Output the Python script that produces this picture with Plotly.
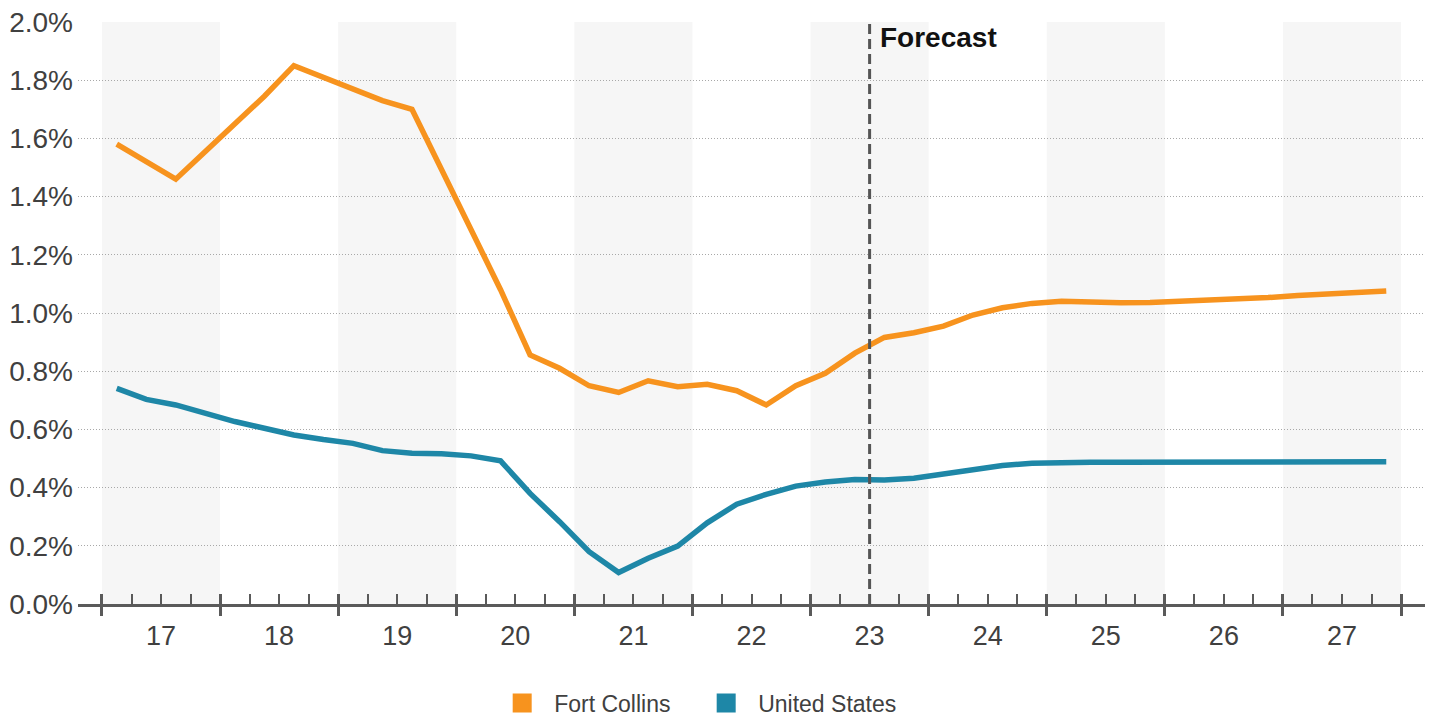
import plotly.graph_objects as go

# ---- data ----
years = list(range(2017, 2028))
quarters = [f"{y}Q{q}" for y in years for q in (1, 2, 3, 4)]
year_labels = ["17", "18", "19", "20", "21", "22", "23", "24", "25", "26", "27"]

fort_collins = [1.58, 1.52, 1.46, 1.555, 1.65, 1.745, 1.85, 1.81, 1.77, 1.73, 1.70,
                1.49, 1.29, 1.08, 0.856, 0.81, 0.75, 0.727, 0.767, 0.747, 0.755, 0.733,
                0.684, 0.75, 0.793, 0.862, 0.916, 0.932, 0.955, 0.993, 1.018, 1.033,
                1.04, 1.037, 1.035, 1.036, 1.04, 1.043, 1.048, 1.053, 1.06, 1.065,
                1.07, 1.076]
united_states = [0.741, 0.703, 0.684, 0.656, 0.627, 0.604, 0.581, 0.565, 0.552, 0.527,
                 0.518, 0.516, 0.509, 0.492, 0.38, 0.283, 0.18, 0.108, 0.157, 0.199,
                 0.279, 0.343, 0.377, 0.405, 0.419, 0.428, 0.426, 0.432, 0.446, 0.464,
                 0.476, 0.484, 0.487, 0.487, 0.487, 0.487, 0.487, 0.487, 0.488, 0.488,
                 0.488, 0.488, 0.489, 0.489]
forecast_start = "2023Q3"
shaded_years = [2017, 2019, 2021, 2023, 2025, 2027]
y_ticks = [0.0, 0.2, 0.4, 0.6, 0.8, 1.0, 1.2, 1.4, 1.6, 1.8, 2.0]


def qpos(label):
    y, q = label.split("Q")
    return int(y) + (int(q) - 1) / 4


x_vals = [qpos(q) + 0.125 for q in quarters]
forecast_x = qpos(forecast_start)
boundaries = years + [years[-1] + 1]

ORANGE = "#F7931E"
BLUE = "#1E87A7"
AXIS = "#5a5a5a"
TXT = "#404040"
FONT = "Liberation Sans, Arial, sans-serif"

x_range = [2016.797, 2028.203]

fig = go.Figure()
fig.add_trace(go.Scatter(x=x_vals, y=fort_collins, mode="lines",
                         line=dict(color=ORANGE, width=5.5), showlegend=False,
                         name="Fort Collins"))
fig.add_trace(go.Scatter(x=x_vals, y=united_states, mode="lines",
                         line=dict(color=BLUE, width=5.5), showlegend=False,
                         name="United States"))
# legend entries (squares)
fig.add_trace(go.Scatter(x=[None], y=[None], mode="markers", name="Fort Collins",
                         marker=dict(symbol="square", size=19, color=ORANGE,
                                     line=dict(color=ORANGE, width=3))))
fig.add_trace(go.Scatter(x=[None], y=[None], mode="markers", name="United States",
                         marker=dict(symbol="square", size=19, color=BLUE,
                                     line=dict(color=BLUE, width=3))))

shapes = []
for yr in shaded_years:
    shapes.append(dict(type="rect", xref="x", yref="paper", x0=yr, x1=yr + 1,
                       y0=0, y1=1, fillcolor="#f6f6f6", line=dict(width=0),
                       layer="below"))
shapes.append(dict(type="line", xref="x", yref="paper", x0=forecast_x, x1=forecast_x,
                   y0=0, y1=1.002, line=dict(color="#555555", width=3, dash="10px,5px"),
                   layer="above"))

fig.update_layout(
    width=1432, height=717,
    margin=dict(l=78, r=7, t=22, b=113, autoexpand=False),
    plot_bgcolor="white", paper_bgcolor="white",
    font=dict(family=FONT, color=TXT, size=27),
    shapes=shapes,
    showlegend=True,
    legend=dict(orientation="h", x=0.306, xanchor="left", y=-0.17, yanchor="middle",
                font=dict(size=23, color=TXT, family=FONT), itemwidth=54,
                entrywidth=135, entrywidthmode="pixels", itemclick=False),
    annotations=[dict(x=forecast_x, y=0.973, xref="x", yref="paper", text="<b>Forecast</b>",
                      showarrow=False, xanchor="left", yanchor="middle", xshift=8,
                      font=dict(size=28, color="#111111", family=FONT))],
    xaxis=dict(range=x_range, tickmode="array", tickvals=[y + 0.5 for y in years],
               ticktext=year_labels, ticks="", showgrid=False, zeroline=False,
               showline=True, linecolor=AXIS, linewidth=3,
               tickfont=dict(size=27, color=TXT), ticklabelstandoff=6),
    xaxis2=dict(range=x_range, overlaying="x", anchor="y", side="bottom",
                tickmode="array", tickvals=boundaries, ticks="outside", ticklen=11,
                tickwidth=3, tickcolor=AXIS, showticklabels=False, showgrid=False,
                zeroline=False, showline=False),
    xaxis3=dict(range=x_range, overlaying="x", anchor="y", side="bottom",
                tickmode="array", tickvals=boundaries, ticks="inside", ticklen=10,
                tickwidth=3, tickcolor=AXIS, showticklabels=False, showgrid=False,
                zeroline=False, showline=False,
                minor=dict(ticks="inside", ticklen=10, tickwidth=1.5, tickcolor=AXIS,
                           tick0=2017, dtick=0.25, showgrid=False)),
    yaxis=dict(range=[0, 2.0], tickmode="array", tickvals=y_ticks,
               ticktext=[f"{v:.1f}%" for v in y_ticks], showgrid=True,
               gridcolor="#a8a8a8", gridwidth=1, griddash="1px,2px", zeroline=False,
               showline=False, ticks="", tickfont=dict(size=28, color=TXT),
               ticklabelstandoff=4),
)
# attach invisible traces so overlay axes render
fig.add_trace(go.Scatter(x=[None], y=[None], xaxis="x2", showlegend=False, hoverinfo="skip"))
fig.add_trace(go.Scatter(x=[None], y=[None], xaxis="x3", showlegend=False, hoverinfo="skip"))

fig.write_html("out.html")
